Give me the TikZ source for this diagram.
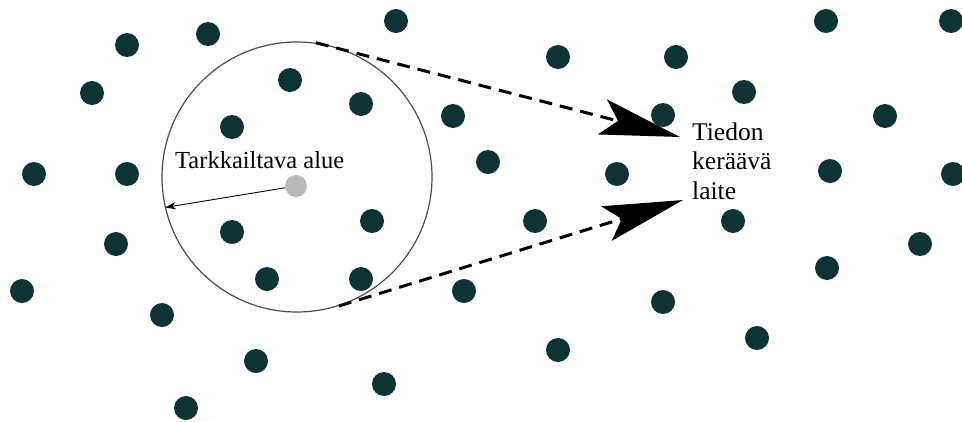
\documentclass[tikz,border=0pt]{standalone}
\usepackage{fontspec}
\setmainfont{Liberation Serif}
\usetikzlibrary{arrows.meta}
\usepackage{xcolor}
\definecolor{sensorcol}{RGB}{12,52,52}
\tikzset{
	sensor/.style={
		circle, fill=sensorcol, inner sep=0pt, minimum size=24pt
	},
	sink/.style={
		circle, fill=gray!55, inner sep=0pt, minimum size=22pt
	},
	area/.style={
		circle, draw=black!70, line width=1.2pt, inner sep=0pt, minimum size=270pt
	},
	transfer/.style={
		line width=3pt, dash pattern=on 13pt off 8pt,
		-{Stealth[length=80pt,width=36pt,inset=16pt]}
	}
}

\begin{document}
\begin{tikzpicture}[yscale=-1, x=1pt, y=1pt]
\useasboundingbox (0,0) rectangle (962,421);
\node[sensor] (v0) at ( 127, 45 ) {};
\node[sensor] (v1) at ( 208, 34 ) {};
\node[sensor] (v2) at ( 396, 21 ) {};
\node[sensor] (v3) at ( 826, 21 ) {};
\node[sensor] (v4) at ( 951, 21 ) {};
\node[sensor] (v5) at ( 92, 93 ) {};
\node[sensor] (v6) at ( 290, 80 ) {};
\node[sensor] (v7) at ( 361, 104 ) {};
\node[sensor] (v8) at ( 232, 127 ) {};
\node[sensor] (v9) at ( 558, 57 ) {};
\node[sensor] (v10) at ( 676, 57 ) {};
\node[sensor] (v11) at ( 744, 92 ) {};
\node[sensor] (v12) at ( 453, 116 ) {};
\node[sensor] (v13) at ( 663, 115 ) {};
\node[sensor] (v14) at ( 885, 116 ) {};
\node[sensor] (v15) at ( 34, 174 ) {};
\node[sensor] (v16) at ( 127, 174 ) {};
\node[sensor] (v17) at ( 488, 162 ) {};
\node[sensor] (v18) at ( 617, 174 ) {};
\node[sensor] (v19) at ( 830, 171 ) {};
\node[sensor] (v20) at ( 953, 174 ) {};
\node[sensor] (v21) at ( 372, 221 ) {};
\node[sensor] (v22) at ( 232, 232 ) {};
\node[sensor] (v23) at ( 116, 244 ) {};
\node[sensor] (v24) at ( 535, 221 ) {};
\node[sensor] (v25) at ( 733, 221 ) {};
\node[sensor] (v26) at ( 920, 244 ) {};
\node[sensor] (v27) at ( 267, 279 ) {};
\node[sensor] (v28) at ( 361, 279 ) {};
\node[sensor] (v29) at ( 22, 291 ) {};
\node[sensor] (v30) at ( 464, 291 ) {};
\node[sensor] (v31) at ( 827, 268 ) {};
\node[sensor] (v32) at ( 162, 315 ) {};
\node[sensor] (v33) at ( 663, 302 ) {};
\node[sensor] (v34) at ( 757, 338 ) {};
\node[sensor] (v35) at ( 256, 361 ) {};
\node[sensor] (v36) at ( 558, 350 ) {};
\node[sensor] (v37) at ( 384, 384 ) {};
\node[sensor] (v38) at ( 186, 408 ) {};
% monitored area and its centre
\node[area] (zone) at ( 297, 177 ) {};
\node[sink] (c) at ( 296, 186 ) {};
\node[anchor=base west, inner sep=0pt, font=\fontsize{24.5}{29}\selectfont] (lbl) at ( 175, 168 ) {Tarkkailtava alue};
\draw[line width=0.9pt, -{Stealth[length=11pt,width=7pt]}] (c) -- (zone.193);
% data collector
\node[anchor=base west, inner sep=0pt, align=left, font=\fontsize{25.5}{29.5}\selectfont] (dev) at ( 692, 199 ) {Tiedon\\keräävä\\laite};
\coordinate (t1) at ( 680, 137 );
\coordinate (t2) at ( 683, 200 );
\draw[transfer] (zone.82) -- (t1);
\draw[transfer] (zone.-72) -- (t2);
\end{tikzpicture}
\end{document}
